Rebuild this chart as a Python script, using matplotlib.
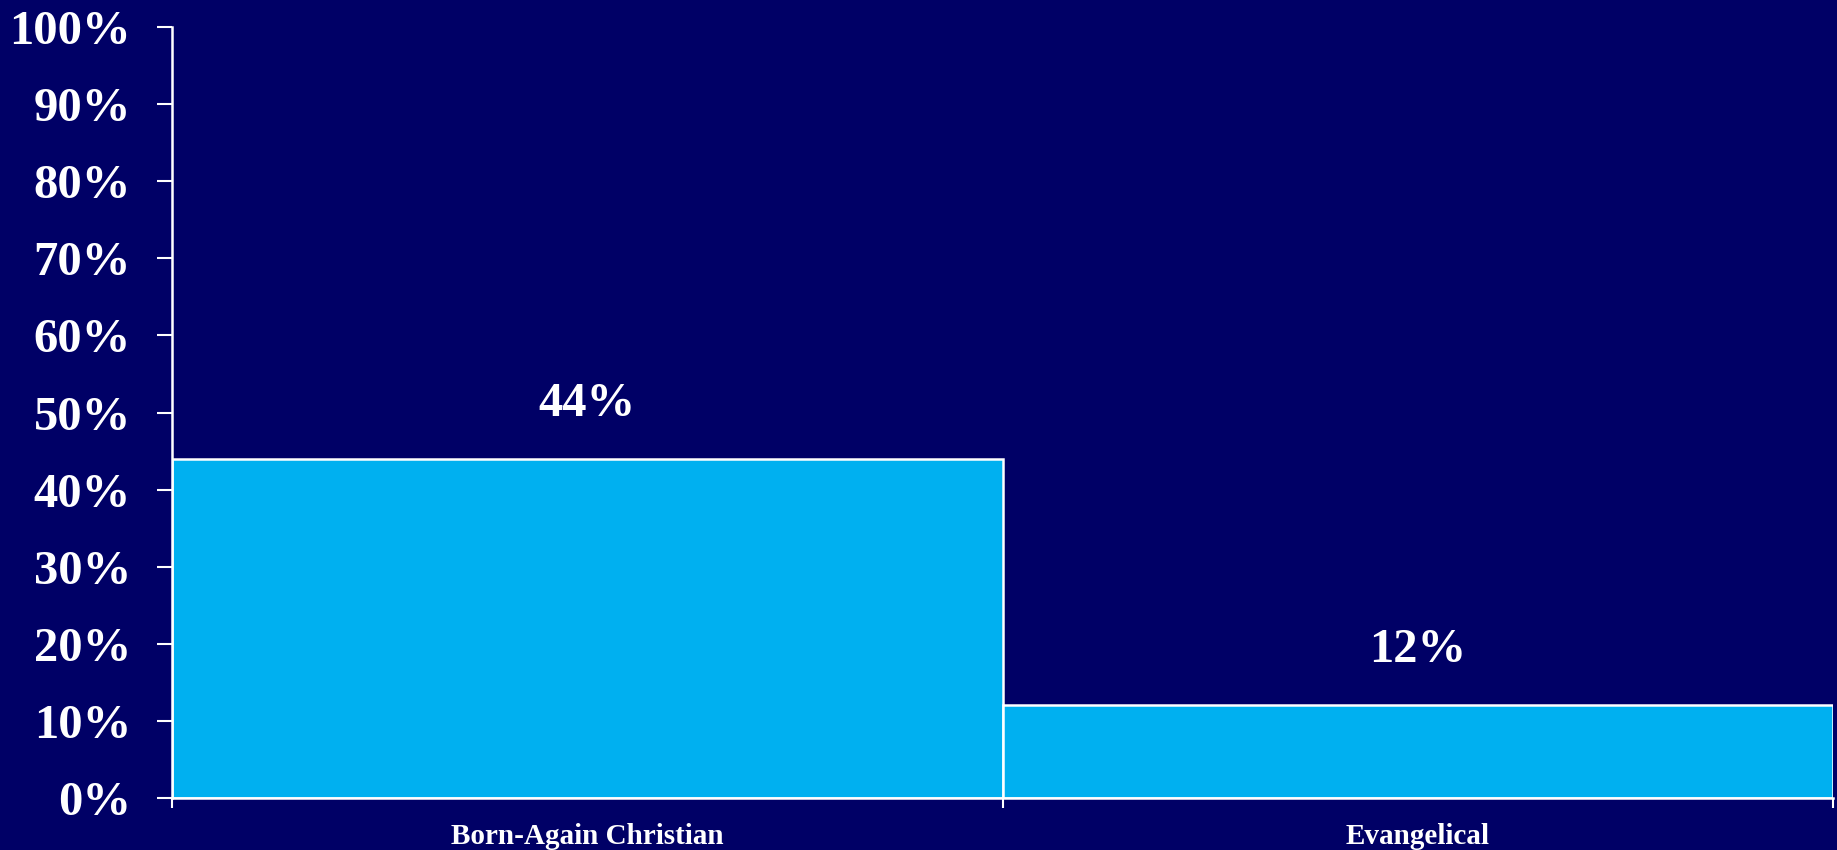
import matplotlib
matplotlib.use("Agg")
import matplotlib.pyplot as plt
from matplotlib.ticker import FixedLocator, FuncFormatter

categories = ["Born-Again Christian", "Evangelical"]
values = [44, 12]
y_ticks = list(range(0, 101, 10))

BG = "#000066"
BAR = "#00B0F0"

plt.rcParams["font.family"] = ["Liberation Serif", "DejaVu Serif"]
plt.rcParams["font.weight"] = "bold"

fig = plt.figure(figsize=(18.37, 8.5), dpi=100, facecolor=BG)
ax = fig.add_axes([172 / 1837, 52 / 850, 1661 / 1837, 771 / 850])
ax.set_facecolor(BG)

x = range(len(categories))
bars = ax.bar(x, values, width=1.0, color=BAR, edgecolor="white", linewidth=1.8, zorder=2)

for xi, v in zip(x, values):
    ax.text(xi, v + 4.3, f"{v}%", ha="center", va="bottom", color="white",
            fontsize=35, fontweight="bold")

ax.set_xlim(-0.5, len(categories) - 0.5)
ax.set_ylim(0, 100)

ax.set_yticks(y_ticks)
ax.yaxis.set_major_formatter(FuncFormatter(lambda v, p: f"{v:.0f}%"))
ax.tick_params(axis="y", colors="white", labelsize=35, length=11, width=1.5,
               direction="out", pad=18.5)

# boundaries get the tick marks, category centres get the labels
ax.xaxis.set_major_locator(FixedLocator([i - 0.5 for i in range(len(categories) + 1)]))
ax.xaxis.set_major_formatter(FuncFormatter(lambda v, p: ""))
ax.xaxis.set_minor_locator(FixedLocator(list(x)))
ax.xaxis.set_minor_formatter(FuncFormatter(lambda v, p: categories[int(round(v))]))
ax.tick_params(axis="x", which="major", colors="white", length=7, width=1.5, direction="out")
ax.tick_params(axis="x", which="minor", colors="white", length=0, labelsize=21, pad=18)

for side in ["top", "right"]:
    ax.spines[side].set_visible(False)
for side in ["left", "bottom"]:
    ax.spines[side].set_color("white")
    ax.spines[side].set_linewidth(1.8)
    ax.spines[side].set_zorder(3)

for lbl in ax.get_yticklabels() + ax.get_xticklabels(minor=True):
    lbl.set_fontweight("bold")

fig.savefig("out.png", dpi=100, facecolor=BG)
